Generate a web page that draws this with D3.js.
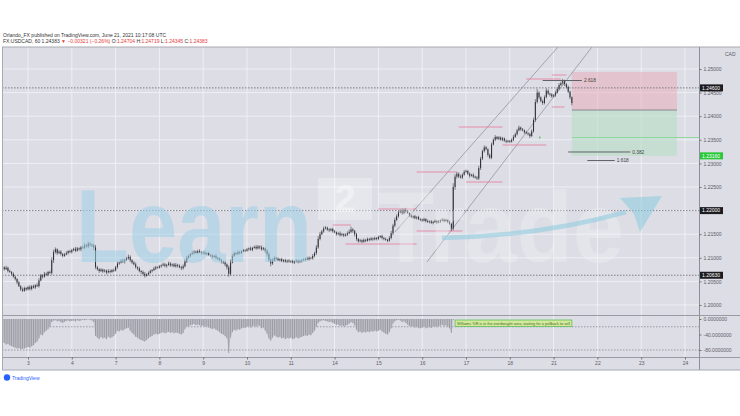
<!DOCTYPE html>
<html><head><meta charset="utf-8">
<script src="https://cdn.jsdelivr.net/npm/d3@7"></script>
<style>html,body{margin:0;padding:0;background:#fff;}svg{display:block;font-family:"Liberation Sans",Arial,sans-serif;}</style>
</head><body><svg id="c" width="740" height="416"></svg>
<script>
// ---------- DATA ----------
const dayLabels = ["3","4","7","8","9","10","11","14","15","16","17","18","21","22","23","24"];
const firstDayIndex = 14;       // bar index where label "3" starts
const barsPerDay = 24;
const priceTicks = [1.20,1.205,1.21,1.215,1.22,1.225,1.23,1.235,1.24,1.245,1.25];
const oscTicks = [0,-40,-80];
const oscLevels = [-20,-80];
// hourly closes, pips above 1.20000
const firstOpen = 82;
const closes = [
 80,76,79,72,70,66,60,55,48,40,33,30,36,33,
 38,34,40,37,42,40,52,63,60,66,64,70,68,95,112,118,110,113,108,104,107,110,114,112,
 116,119,115,120,118,122,121,126,124,130,128,126,122,80,76,72,75,71,73,69,72,70,74,73,
 80,88,90,94,92,96,99,102,95,90,86,80,78,72,70,66,62,65,68,72,74,77,80,79,
 82,84,86,83,85,88,84,86,82,85,83,80,78,82,92,100,104,108,110,113,111,114,112,110,
 111,108,110,106,105,102,104,100,98,95,92,90,86,80,66,90,104,110,108,112,110,114,116,115,
 118,120,117,121,123,120,124,122,118,120,115,108,96,88,94,100,98,95,97,93,95,92,94,92,
 93,90,92,94,91,93,95,96,98,97,100,99,104,110,122,140,150,156,162,164,160,158,161,156,
 154,150,152,148,150,147,149,152,155,160,157,150,140,135,137,134,138,136,140,138,141,139,142,140,
 144,146,142,140,138,136,142,152,168,180,188,196,200,194,202,198,195,190,186,188,184,186,182,181,
 179,182,178,176,177,174,176,178,175,177,179,181,178,180,176,172,162,250,272,278,272,270,276,282,
 284,278,274,276,272,270,268,290,310,326,334,330,318,312,340,350,356,352,355,350,353,348,346,348,
 346,350,356,362,370,376,372,370,366,364,362,358,368,392,430,450,440,432,428,440,454,448,446,442,
 444,450,458,466,470,474,468,462,452,440,428];
// upper / lower wick length in pips
const upWick = [
 3,2,4,2,3,2,3,2,2,3,2,4,3,2,
 3,4,2,3,2,4,5,3,2,4,3,2,3,6,5,4,2,3,3,2,3,4,2,3,
 3,2,4,3,2,3,4,5,3,4,3,2,4,5,3,2,3,2,3,2,4,3,2,3,
 3,4,2,3,4,2,3,5,3,2,3,4,2,3,2,3,4,2,3,3,2,4,3,2,
 3,2,4,3,2,4,3,2,3,4,2,3,3,4,5,4,3,2,4,3,2,3,4,2,
 3,4,2,3,2,3,2,4,2,3,3,2,3,2,4,6,4,3,2,4,3,2,3,2,
 3,2,4,2,3,4,3,2,4,3,2,3,4,3,5,3,2,3,2,3,2,3,2,3,
 2,3,2,3,2,3,2,3,2,4,3,2,4,3,5,6,5,3,4,3,2,3,2,3,
 3,2,3,4,3,2,3,4,5,6,3,2,3,2,3,2,3,2,3,2,3,2,3,2,
 3,2,3,2,3,2,4,5,4,5,4,3,4,5,3,4,3,2,3,2,3,2,3,2,
 2,3,2,3,2,3,2,3,2,3,2,3,2,3,2,3,2,8,5,4,3,4,3,4,
 3,2,3,2,3,2,3,5,4,3,4,3,2,3,4,3,4,2,3,2,3,2,3,2,
 2,3,4,3,3,4,2,3,2,3,2,3,4,5,6,8,3,2,3,4,5,3,2,3,
 3,4,3,4,3,5,3,2,3,2,2];
const dnWick = [
 2,3,2,3,2,3,2,3,4,2,3,2,2,3,
 2,3,3,2,3,2,3,2,4,2,3,3,2,4,6,3,4,2,3,3,2,2,3,2,
 3,2,3,2,3,4,2,3,2,3,4,3,6,4,3,4,2,3,2,4,2,3,2,3,
 2,3,3,2,3,4,2,3,4,3,2,3,4,3,4,3,4,2,3,2,3,2,3,2,
 2,3,2,3,4,2,3,3,2,3,4,2,4,3,2,3,2,3,2,3,2,3,2,3,
 3,2,3,2,3,4,2,3,3,2,4,3,4,5,6,3,2,2,3,2,3,2,2,3,
 2,3,2,3,2,3,2,4,3,2,4,5,4,6,3,2,3,2,3,2,3,2,3,2,
 3,2,3,2,3,2,3,2,3,2,3,2,3,3,4,3,3,2,3,2,3,3,2,3,
 2,3,2,3,2,3,2,3,2,3,4,5,4,3,2,3,2,3,2,3,2,3,2,3,
 3,2,3,3,2,3,2,3,4,3,2,3,2,3,2,3,2,3,2,3,2,3,2,3,
 3,2,3,2,3,2,3,2,3,2,3,2,3,2,3,3,5,4,6,4,3,2,3,2,
 2,3,4,2,3,2,3,3,4,3,3,2,4,3,3,2,3,2,3,2,3,2,3,2,
 3,2,3,2,3,2,3,2,3,2,3,4,2,3,4,3,4,3,4,3,2,3,4,3,
 2,3,2,3,2,3,4,3,3,4,5];
// Williams %R style oscillator, one value per bar
const osc = [
 -58,-62,-66,-64,-68,-70,-72,-74,-76,-75,-78,-77,-76,-74,
 -72,-74,-70,-68,-62,-58,-50,-40,-42,-34,-30,-26,-20,-8,-4,-3,-6,-5,-8,-10,-7,-5,-4,-6,
 -5,-4,-6,-3,-5,-4,-2,-3,-2,-1,-2,-4,-8,-44,-48,-52,-46,-50,-48,-52,-45,-49,-47,-44,
 -38,-30,-32,-28,-30,-26,-24,-22,-30,-36,-40,-46,-48,-52,-54,-56,-58,-54,-50,-46,-44,-40,-38,-40,
 -38,-36,-34,-37,-35,-33,-36,-34,-37,-35,-36,-38,-40,-36,-26,-20,-18,-16,-15,-13,-16,-14,-16,-18,
 -17,-20,-18,-22,-24,-26,-24,-28,-30,-34,-38,-40,-44,-50,-88,-48,-34,-28,-30,-26,-28,-24,-22,-23,
 -20,-18,-22,-19,-17,-20,-16,-18,-24,-22,-30,-38,-50,-56,-48,-42,-45,-48,-46,-50,-48,-52,-49,-50,
 -48,-52,-50,-47,-50,-48,-46,-44,-42,-44,-40,-42,-36,-30,-20,-10,-6,-4,-3,-5,-6,-8,-7,-10,
 -12,-15,-14,-18,-16,-19,-17,-15,-12,-8,-10,-16,-28,-34,-32,-36,-33,-35,-32,-34,-31,-33,-30,-32,
 -30,-28,-32,-35,-38,-40,-34,-24,-12,-6,-3,-2,-4,-8,-6,-10,-14,-18,-20,-19,-22,-20,-23,-24,
 -22,-20,-24,-22,-21,-23,-20,-18,-21,-19,-17,-15,-18,-16,-20,-24,-36,-2,0,0,0,0,0,0,
 0,0,0,0,0,0,0,0,0,0,0,0,0,0,0,0,0,0,0,0,0,0,0,0,
 0,0,0,0,0,0,0,0,0,0,0,0,0,0,0,0,0,0,0,0,0,0,0,0,
 0,0,0,0,0,0,0,0,0,0,0];
// drawings: [price, barFrom, barTo]
const dottedLevels = [1.24600, 1.22000, 1.20630];
const pinkLevels = [
 [1.24788,287,306],[1.24873,301,309],[1.24195,301,308],[1.23771,250,274],[1.23390,274,298],
 [1.22818,227,249],[1.22606,254,274],[1.22034,206,227],[1.21695,181,191],[1.21568,227,252],[1.21292,188,227]];
const channelLower = [[232.6,1.20911],[323.0,1.25466]];
const channelUpper = [[215.1,1.21547],[304.4,1.25466]];
const position = {from:312, to:369.6, stop:1.24936, entry:1.24131, target:1.23160};
const greenLine = {price:1.23549, from:312};
const fibLines = [["2.618",1.24756,296,317.5],["0.382",1.23242,310,344],["1.618",1.23061,320.5,335.5]];
const oscNote = {from:248, to:312};

// ---------- LAYOUT ----------
const svg = d3.select("#c");
const L = 2, R = 699, mainT = 47, mainB = 315, oscT = 316, oscB = 357, axB = 370;
const BG = "#dcdde5", GRID = "#eef0f4", INK = "#2e2e34", TXT = "#5c5c66";
const x = d3.scaleLinear().domain([firstDayIndex, firstDayIndex + 15*barsPerDay]).range([28, 685]);
const y = d3.scaleLinear().domain([1.20, 1.25]).range([305, 69]);
const yO = d3.scaleLinear().domain([-80, 0]).range([350, 319]);
const P = v => 1.2 + v/10000;

// header
svg.append("text").attr("x",3).attr("y",37).attr("font-size",5).attr("fill","#333")
  .text("Orlando_FX published on TradingView.com, June 21, 2021 10:17:08 UTC");
const h2 = svg.append("text").attr("x",3).attr("y",43).attr("font-size",5).attr("fill","#333");
h2.append("tspan").text("FX:USDCAD, 60  1.24383 ");
h2.append("tspan").attr("fill","#e53935").text("▼ ");
h2.append("tspan").attr("fill","#e53935").text("−0.00321 (−0.26%) ");
[["O:","1.24704"],["H:","1.24719"],["L:","1.24345"],["C:","1.24383"]].forEach(([k,v])=>{
  h2.append("tspan").attr("fill","#333").text(k);
  h2.append("tspan").attr("fill","#e53935").text(v+" ");
});

// backgrounds
svg.append("rect").attr("x",L).attr("y",mainT).attr("width",740-L).attr("height",axB-mainT).attr("fill",BG);
const defs = svg.append("defs");
defs.append("clipPath").attr("id","cm").append("rect").attr("x",L).attr("y",mainT).attr("width",R-L).attr("height",mainB-mainT);
defs.append("clipPath").attr("id","co").append("rect").attr("x",L).attr("y",oscT).attr("width",R-L).attr("height",oscB-oscT);

// grid
const dayIdx = dayLabels.map((d,k)=>firstDayIndex + k*barsPerDay);
const g = svg.append("g");
g.selectAll("line.v").data(dayIdx).join("line").attr("x1",d=>x(d)).attr("x2",d=>x(d))
  .attr("y1",mainT).attr("y2",oscB).attr("stroke",GRID).attr("stroke-width",1);
g.selectAll("line.h").data(priceTicks).join("line").attr("x1",L).attr("x2",R)
  .attr("y1",d=>y(d)).attr("y2",d=>y(d)).attr("stroke",GRID).attr("stroke-width",1);

const main = svg.append("g").attr("clip-path","url(#cm)");

// position tool
main.append("rect").attr("x",x(position.from)).attr("width",x(position.to)-x(position.from))
  .attr("y",y(position.stop)).attr("height",y(position.entry)-y(position.stop)).attr("fill","#eaa9b5").attr("opacity",0.5);
main.append("rect").attr("x",x(position.from)).attr("width",x(position.to)-x(position.from))
  .attr("y",y(position.entry)).attr("height",y(position.target)-y(position.entry)).attr("fill","#b8dec3").attr("opacity",0.6);
main.append("line").attr("x1",x(position.from)).attr("x2",x(position.to)).attr("y1",y(position.entry)).attr("y2",y(position.entry))
  .attr("stroke","#8a8a90").attr("stroke-width",1);
main.append("line").attr("x1",x(greenLine.from)).attr("x2",R).attr("y1",y(greenLine.price)).attr("y2",y(greenLine.price))
  .attr("stroke","#95d89f").attr("stroke-width",1.2);
main.append("rect").attr("x",x(294)).attr("y",y(greenLine.price)-1).attr("width",1.5).attr("height",2).attr("fill","#6cc36f");

// dotted levels
main.selectAll("line.dot").data(dottedLevels).join("line").attr("x1",L).attr("x2",R)
  .attr("y1",d=>y(d)).attr("y2",d=>y(d)).attr("stroke","#74747f").attr("stroke-width",0.9).attr("stroke-dasharray","1.5,1.5");

// channel
[channelLower, channelUpper].forEach(c=>{
  main.append("line").attr("x1",x(c[0][0])).attr("y1",y(c[0][1])).attr("x2",x(c[1][0])).attr("y2",y(c[1][1]))
    .attr("stroke","#8b8b95").attr("stroke-width",0.7);
});

// pink levels
main.selectAll("line.pk").data(pinkLevels).join("line").attr("x1",d=>x(d[1])).attr("x2",d=>x(d[2]))
  .attr("y1",d=>y(d[0])).attr("y2",d=>y(d[0])).attr("stroke","#e8789a").attr("stroke-width",0.8);

// candles
const bars = closes.map((c,i)=>{
  const o = i ? closes[i-1] : firstOpen;
  return {i, o:P(o), c:P(c), h:P(Math.max(o,c)+upWick[i]), l:P(Math.min(o,c)-dnWick[i])};
});
main.selectAll("line.wk").data(bars).join("line").attr("x1",d=>x(d.i)).attr("x2",d=>x(d.i))
  .attr("y1",d=>y(d.h)).attr("y2",d=>y(d.l)).attr("stroke",INK).attr("stroke-width",0.55);
main.selectAll("rect.bd").data(bars).join("rect").attr("x",d=>x(d.i)-0.5).attr("width",1.0)
  .attr("y",d=>y(Math.max(d.o,d.c))).attr("height",d=>Math.max(0.6,Math.abs(y(d.o)-y(d.c)))).attr("fill",INK);

// fib lines
fibLines.forEach(([t,p,a,b])=>{
  main.append("line").attr("x1",x(a)).attr("x2",x(b)).attr("y1",y(p)).attr("y2",y(p)).attr("stroke","#55555e").attr("stroke-width",0.9);
  main.append("text").attr("x",x(b)+2).attr("y",y(p)+1.7).attr("font-size",4.8).attr("fill","#444").text(t);
});

// watermark (Learn2Trade)
const wm = svg.append("g").attr("clip-path","url(#cm)");
wm.append("text").attr("transform","translate(76,262) scale(1,1.2)").attr("font-size",86).attr("font-weight","bold")
  .attr("textLength",236).attr("lengthAdjust","spacingAndGlyphs").attr("fill","#9fd0e6").attr("opacity",0.55).text("Learn");
wm.append("rect").attr("x",318).attr("y",178).attr("width",54).attr("height",42).attr("fill","#ffffff").attr("opacity",0.3);
wm.append("text").attr("x",345).attr("y",212).attr("text-anchor","middle").attr("font-size",38).attr("font-weight","bold")
  .attr("fill","#ffffff").attr("opacity",0.4).text("2");
wm.append("text").attr("transform","translate(378,262) scale(1,1.2)").attr("font-size",84).attr("font-weight","bold")
  .attr("textLength",246).attr("lengthAdjust","spacingAndGlyphs").attr("fill","#f4f7fa").attr("opacity",0.32).text("Trade");
wm.append("path").attr("d","M442,238 Q540,236 626,212").attr("fill","none").attr("stroke","#8ccbe0").attr("stroke-width",4.5).attr("opacity",0.55);
wm.append("path").attr("d","M620,198 L662,196 L640,232 L634,214 Z").attr("fill","#8ccbe0").attr("opacity",0.55);

// oscillator pane
const op = svg.append("g").attr("clip-path","url(#co)");
op.selectAll("line.lv").data(oscLevels).join("line").attr("x1",L).attr("x2",R).attr("y1",d=>yO(d)).attr("y2",d=>yO(d))
  .attr("stroke","#8a8a95").attr("stroke-width",0.8).attr("stroke-dasharray","1.5,1.5");
op.append("path").datum(osc).attr("d", d3.area().x((d,i)=>x(i)).y0(yO(0)).y1(d=>yO(d))).attr("fill","#c6c7ce");
op.selectAll("line.hb").data(osc).join("line").attr("x1",(d,i)=>x(i)).attr("x2",(d,i)=>x(i))
  .attr("y1",yO(0)).attr("y2",d=>yO(d)).attr("stroke","#86868f").attr("stroke-width",0.7);
op.append("rect").attr("x",x(oscNote.from)).attr("width",x(oscNote.to)-x(oscNote.from)).attr("y",320).attr("height",6.5)
  .attr("fill","#d2ea9a").attr("stroke","#5cbf5a").attr("stroke-width",0.8);
op.append("text").attr("x",x(oscNote.from)+2).attr("y",325).attr("font-size",4.2).attr("fill","#4a6a30")
  .attr("textLength",x(oscNote.to)-x(oscNote.from)-4).attr("lengthAdjust","spacingAndGlyphs")
  .text("Williams %R is in the overbought area, waiting for a pullback to sell");

// pane borders
svg.append("line").attr("x1",L).attr("x2",740).attr("y1",mainT).attr("y2",mainT).attr("stroke","#a8a9b2");
svg.append("line").attr("x1",L).attr("x2",740).attr("y1",mainB+0.5).attr("y2",mainB+0.5).attr("stroke","#9a9ba5").attr("stroke-width",1.2);
svg.append("line").attr("x1",L).attr("x2",740).attr("y1",oscB+0.5).attr("y2",oscB+0.5).attr("stroke","#9a9ba5");
svg.append("line").attr("x1",R+0.5).attr("x2",R+0.5).attr("y1",mainT).attr("y2",axB).attr("stroke","#8e8f99");
svg.append("line").attr("x1",L+0.5).attr("x2",L+0.5).attr("y1",mainT).attr("y2",axB).attr("stroke","#a8a9b2");
svg.append("line").attr("x1",L).attr("x2",740).attr("y1",axB).attr("y2",axB).attr("stroke","#a8a9b2");

// price axis
const ya = svg.append("g").attr("transform",`translate(${R},0)`)
  .call(d3.axisRight(y).tickValues(priceTicks).tickFormat(d=>d.toFixed(5)).tickSize(2.5).tickPadding(2));
ya.select(".domain").remove();
ya.selectAll("line").attr("stroke","#777");
ya.selectAll("text").attr("font-size",5).attr("fill",TXT).attr("font-family","Liberation Sans, Arial");
svg.append("text").attr("x",725).attr("y",56).attr("font-size",5).attr("fill",TXT).text("CAD");

// oscillator axis
const oa = svg.append("g").attr("transform",`translate(${R},0)`)
  .call(d3.axisRight(yO).tickValues(oscTicks).tickFormat(d=>d.toFixed(7)).tickSize(2.5).tickPadding(2));
oa.select(".domain").remove();
oa.selectAll("line").attr("stroke","#777");
oa.selectAll("text").attr("font-size",5).attr("fill",TXT).attr("font-family","Liberation Sans, Arial");

// price labels on axis
const tag = (p, bg) => {
  svg.append("rect").attr("x",R+1).attr("y",y(p)-3.5).attr("width",23).attr("height",7).attr("fill",bg);
  svg.append("text").attr("x",R+3).attr("y",y(p)+1.8).attr("font-size",5).attr("fill","#fff").text(p.toFixed(5));
};
dottedLevels.forEach(p=>tag(p,"#1c1c20"));
tag(position.target,"#28c83a");

// time axis
const xa = svg.append("g").attr("transform",`translate(0,${oscB})`)
  .call(d3.axisBottom(x).tickValues(dayIdx).tickFormat((d,k)=>dayLabels[k]).tickSize(2.5).tickPadding(2));
xa.select(".domain").remove();
xa.selectAll("line").attr("stroke","#777");
xa.selectAll("text").attr("font-size",5).attr("fill",TXT).attr("font-family","Liberation Sans, Arial");

// footer logo
svg.append("circle").attr("cx",7).attr("cy",377.5).attr("r",3.2).attr("fill","#2962ff");
svg.append("text").attr("x",12).attr("y",379.5).attr("font-size",5).attr("fill","#2962ff").text("TradingView");
</script></body></html>
